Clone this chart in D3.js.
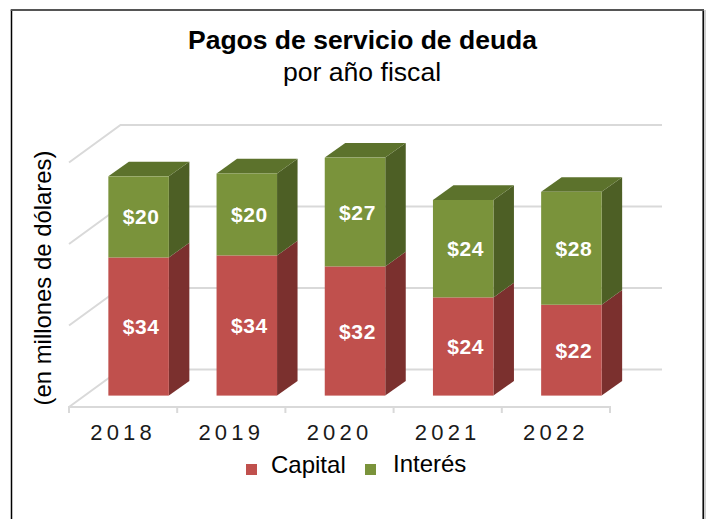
<!DOCTYPE html>
<html>
<head>
<meta charset="utf-8">
<script src="https://d3js.org/d3.v7.min.js"></script>
<style>
html, body { margin: 0; padding: 0; background: #fff; }
svg { display: block; font-family: "Liberation Sans", Arial, sans-serif; }
</style>
</head>
<body>
<div id="chart"></div>
<script>
const years = ["2018", "2019", "2020", "2021", "2022"];
const capital = [33.9, 34.4, 31.7, 24.1, 22.3];
const interes = [19.9, 20.1, 26.7, 23.9, 27.7];
const gridValues = [0, 20, 40, 60];
const legendLabels = ["Capital", "Interés"];

const width = 708, height = 519;

// depth of the 3D floor, and of the bars inside it
const floorDx = 51.5, floorDy = -37.5;
const barDx = 20.5, barDy = -14.7;
const gapDx = (floorDx - barDx) / 2, gapDy = (floorDy - barDy) / 2;

const colors = {
    capital: { front: "#c0504d", side: "#7b302e", top: "#9a403d" },
    interes: { front: "#7a933b", side: "#4d5f25", top: "#5c722c" }
};

const x = d3.scaleBand().domain(years).range([69, 610]);
const y = d3.scaleLinear().domain([0, 60]).range([407, 162.5]);
const barWidth = 60.5;

const svg = d3.select("#chart").append("svg")
    .attr("width", width)
    .attr("height", height);

svg.append("rect").attr("width", width).attr("height", height).attr("fill", "#fff");

// border of the box: dark grey top, black sides, faint shadow on the right
svg.append("line")
    .attr("x1", 705).attr("x2", 705).attr("y1", 10).attr("y2", 519)
    .attr("stroke", "#bdbdbd").attr("stroke-width", 1.5);
svg.append("path")
    .attr("d", "M11.5,519V10M703.2,10V519")
    .attr("fill", "none")
    .attr("stroke", "#000")
    .attr("stroke-width", 1.5);
svg.append("line")
    .attr("x1", 10.7).attr("x2", 704).attr("y1", 10).attr("y2", 10)
    .attr("stroke", "#555").attr("stroke-width", 2);

svg.append("text")
    .attr("x", 362.5).attr("y", 49)
    .attr("text-anchor", "middle")
    .style("font-size", "26.5px").style("font-weight", "bold")
    .text("Pagos de servicio de deuda");

svg.append("text")
    .attr("x", 362).attr("y", 81)
    .attr("text-anchor", "middle")
    .style("font-size", "26.6px")
    .text("por año fiscal");

// back wall + side wall grid
const grid = svg.append("g").attr("fill", "none").attr("stroke", "#d9d9d9").attr("stroke-width", 2);
gridValues.forEach(v => {
    const pts = [[69, y(v)], [69 + floorDx, y(v) + floorDy], [662, y(v) + floorDy]];
    grid.append("path").attr("d", d3.line()(pts));
});

// x axis with its ticks between categories
const xAxis = svg.append("g").attr("stroke", "#d9d9d9").attr("stroke-width", 2);
xAxis.append("line").attr("x1", 68).attr("x2", 611).attr("y1", y(0)).attr("y2", y(0));
years.concat([null]).forEach((yr, i) => {
    const px = i < years.length ? x(yr) : x.range()[1];
    xAxis.append("line").attr("x1", px).attr("x2", px).attr("y1", y(0)).attr("y2", y(0) + 6);
});

svg.append("g").selectAll("text")
    .data(years)
    .enter()
    .append("text")
    .attr("x", d => x(d) + x.bandwidth() / 2)
    .attr("y", 440)
    .attr("text-anchor", "middle")
    .attr("fill", "#1a1a1a")
    .style("font-size", "22px")
    .style("letter-spacing", "4.2px")
    .text(d => d);

function poly(g, pts, fill) {
    g.append("polygon").attr("points", pts.map(p => p.join(",")).join(" ")).attr("fill", fill);
}

// one 3D block from value v0 up to v1
function block(g, yr, v0, v1, c, withTop) {
    const left = x(yr) + (x.bandwidth() - barWidth) / 2 + gapDx;
    const right = left + barWidth;
    const bottom = y(v0) + gapDy;
    const top = y(v1) + gapDy;
    poly(g, [[right, top], [right + barDx, top + barDy], [right + barDx, bottom + barDy], [right, bottom]], c.side);
    if (withTop) {
        poly(g, [[left, top], [left + barDx, top + barDy], [right + barDx, top + barDy], [right, top]], c.top);
    }
    g.append("rect")
        .attr("x", left).attr("y", top)
        .attr("width", barWidth).attr("height", bottom - top)
        .attr("fill", c.front);
}

const bars = svg.append("g");
years.forEach((yr, i) => {
    const g = bars.append("g");
    block(g, yr, 0, capital[i], colors.capital, false);
    block(g, yr, capital[i], capital[i] + interes[i], colors.interes, true);

    const cx = x(yr) + x.bandwidth() / 2 + gapDx + 2.5;
    [[0, capital[i]], [capital[i], capital[i] + interes[i]]].forEach(([a, b]) => {
        g.append("text")
            .attr("x", cx)
            .attr("y", (y(a) + y(b)) / 2 + gapDy)
            .attr("dy", "0.36em")
            .attr("text-anchor", "middle")
            .attr("fill", "#fff")
            .style("font-size", "21px")
            .style("letter-spacing", "0.6px")
            .style("font-weight", "bold")
            .text("$" + Math.round(b - a));
    });
});

svg.append("text")
    .attr("transform", "translate(51,278) rotate(-90)")
    .attr("text-anchor", "middle")
    .style("font-size", "23.9px")
    .text("(en millones de dólares)");

// legend
const legendX = [246, 365];
const legendColors = [colors.capital.front, colors.interes.front];
const textX = [271, 393];
const legend = svg.append("g");
legendLabels.forEach((name, i) => {
    legend.append("rect")
        .attr("x", legendX[i]).attr("y", 464)
        .attr("width", 11).attr("height", 11)
        .attr("fill", legendColors[i]);
    legend.append("text")
        .attr("x", textX[i]).attr("y", 473 - i)
        .style("font-size", "24px")
        .text(name);
});
</script>
</body>
</html>
